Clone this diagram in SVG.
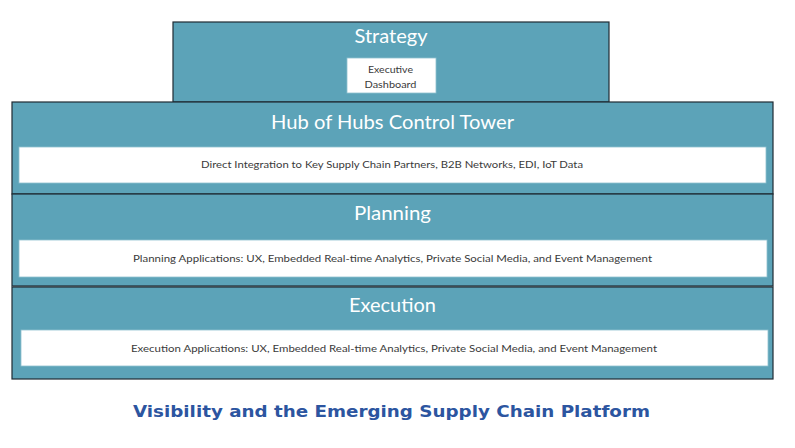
<svg xmlns="http://www.w3.org/2000/svg" width="795" height="448" viewBox="0 0 795 448">
<style>
.tier{fill:#5ca3b8;stroke:#1f2b33;stroke-width:1.2}
.box{fill:#ffffff;stroke:#8fc0d0;stroke-width:0.8}
.h{font-family:Lato,"Open Sans",sans-serif;font-size:20px;fill:#ffffff;text-anchor:middle}
.s{font-family:Lato,"Open Sans",sans-serif;font-size:10px;fill:#3a3a3a;text-anchor:middle}
.t{font-family:"DejaVu Sans",Verdana,sans-serif;font-weight:bold;font-size:16px;fill:#2c55a0;text-anchor:middle}
</style>
<rect width="795" height="448" fill="#ffffff"/>
<g id="strategy">
<rect class="tier" x="173" y="22" width="436" height="80"/>
<text class="h" x="391" y="43" textLength="73" lengthAdjust="spacingAndGlyphs">Strategy</text>
<rect class="box" x="347" y="58" width="89" height="35"/>
<text class="s" x="390.5" y="73" textLength="45" lengthAdjust="spacingAndGlyphs">Executive</text>
<text class="s" x="390.5" y="88" textLength="52" lengthAdjust="spacingAndGlyphs">Dashboard</text>
</g>
<g id="hub">
<rect class="tier" x="12" y="102" width="761" height="92"/>
<text class="h" x="392.5" y="129" textLength="243" lengthAdjust="spacingAndGlyphs">Hub of Hubs Control Tower</text>
<rect class="box" x="19" y="147" width="747" height="36"/>
<text class="s" x="392" y="168" textLength="382" lengthAdjust="spacingAndGlyphs">Direct Integration to Key Supply Chain Partners, B2B Networks, EDI, IoT Data</text>
</g>
<g id="planning">
<rect class="tier" x="12" y="194" width="761" height="92"/>
<text class="h" x="392.5" y="220" textLength="77" lengthAdjust="spacingAndGlyphs">Planning</text>
<rect class="box" x="19" y="240" width="748" height="37"/>
<text class="s" x="392.5" y="262" textLength="519" lengthAdjust="spacingAndGlyphs">Planning Applications: UX, Embedded Real-time Analytics, Private Social Media, and Event Management</text>
</g>
<g id="execution">
<rect class="tier" x="12" y="287" width="761" height="92"/>
<text class="h" x="392.5" y="312" textLength="87" lengthAdjust="spacingAndGlyphs">Execution</text>
<rect class="box" x="21" y="330" width="747" height="36"/>
<text class="s" x="394" y="352" textLength="526" lengthAdjust="spacingAndGlyphs">Execution Applications: UX, Embedded Real-time Analytics, Private Social Media, and Event Management</text>
</g>
<g id="connectors"></g>
<text class="t" x="391.5" y="417" textLength="517" lengthAdjust="spacingAndGlyphs">Visibility and the Emerging Supply Chain Platform</text>
</svg>
